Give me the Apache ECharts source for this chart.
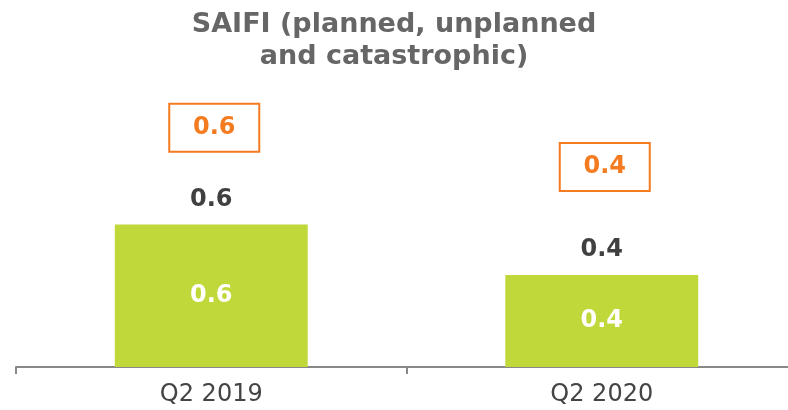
<!DOCTYPE html>
<html><head><meta charset="utf-8">
<script src="https://cdn.jsdelivr.net/npm/echarts@6/dist/echarts.min.js"></script>
<style>html,body{margin:0;padding:0;background:#fff}#c{width:788px;height:410px}</style>
</head><body><div id="c"></div>
<script>
const categories = ['Q2 2019', 'Q2 2020'];
const saifiValues = [0.62, 0.40];
const orangeValues = [0.6, 0.4];
const orangeLabelLevel = [1.04, 0.87];
const titleText = 'SAIFI (planned, unplanned\nand catastrophic)';

const chart = echarts.init(document.getElementById('c'), null, {renderer: 'canvas'});
chart.setOption({
  animation: false,
  title: {
    text: titleText, left: 'center', top: 4,
    textStyle: {fontFamily: 'DejaVu Sans', fontWeight: 'bold', fontSize: 27, lineHeight: 32, color: '#666666'}
  },
  grid: {left: 16, width: 781, top: 91, height: 276, containLabel: false, outerBoundsMode: 'none'},
  xAxis: {
    type: 'category', data: categories,
    axisLine: {lineStyle: {color: '#888888', width: 2}},
    axisTick: {show: true, length: 7, lineStyle: {color: '#888888', width: 2}},
    axisLabel: {fontFamily: 'DejaVu Sans', fontSize: 24, color: '#444444', margin: 16}
  },
  yAxis: {type: 'value', min: 0, max: 1.2, show: false, splitLine: {show: false}},
  series: [
    {
      type: 'bar', data: saifiValues, barWidth: '49.4%',
      itemStyle: {color: '#c0d83a'},
      label: {show: true, position: 'inside', color: '#ffffff', fontFamily: 'DejaVu Sans', fontWeight: 'bold', fontSize: 24,
        formatter: p => p.value.toFixed(1)}
    },
    {
      type: 'bar', data: saifiValues, barWidth: '49.4%', barGap: '-100%',
      itemStyle: {color: 'transparent'}, silent: true,
      label: {show: true, position: 'top', distance: 13, color: '#404040', fontFamily: 'DejaVu Sans', fontWeight: 'bold', fontSize: 24,
        formatter: p => p.value.toFixed(1)}
    },
    {
      type: 'scatter', symbolSize: 1, symbol: 'rect',
      itemStyle: {opacity: 1, color: 'transparent'},
      data: orangeLabelLevel.map((v, i) => [categories[i], v]),
      label: {show: true, position: 'inside', offset: [3, 0], color: '#f47b20', fontFamily: 'DejaVu Sans', fontWeight: 'bold', fontSize: 24,
        borderColor: '#f47b20', borderWidth: 2, width: 88, height: 46, align: 'center', verticalAlign: 'middle',
        backgroundColor: '#ffffff', textBorderWidth: 0,
        formatter: p => orangeValues[p.dataIndex].toFixed(1)}
    }
  ]
});
</script></body></html>
